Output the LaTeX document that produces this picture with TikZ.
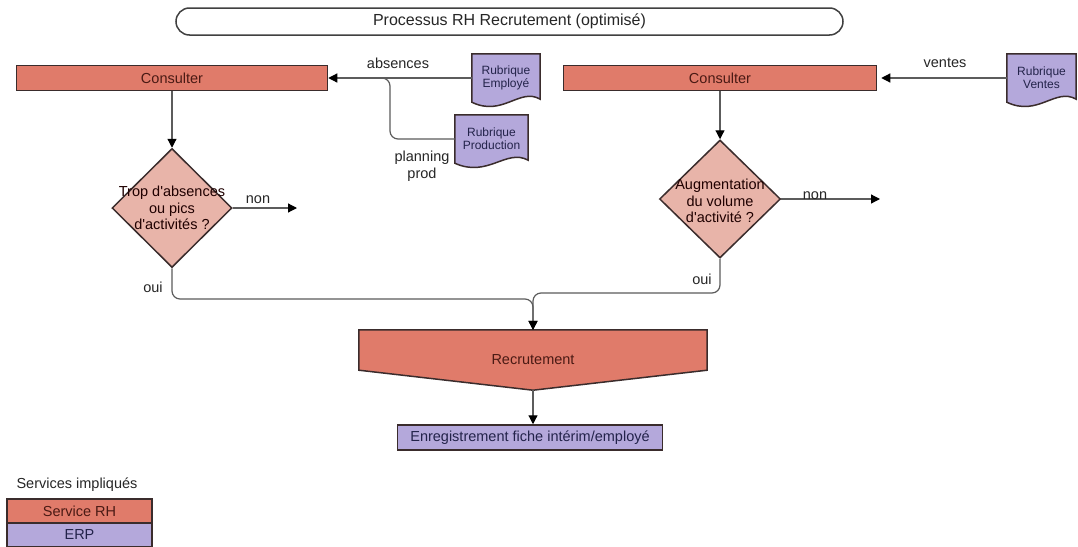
\documentclass[tikz,border=0pt]{standalone}
\usepackage{fontspec}
\setmainfont{Liberation Sans}
\usetikzlibrary{shapes.geometric,arrows.meta,calc,backgrounds}

\definecolor{rhfill}{HTML}{E07B6A}
\definecolor{decfill}{HTML}{E8B4A9}
\definecolor{erpfill}{HTML}{B4A8DB}
\definecolor{edge}{HTML}{3A2C2C}
\definecolor{rhtext}{HTML}{4A1A14}
\definecolor{erptext}{HTML}{23234A}
\definecolor{wire}{HTML}{5C5C5C}

\tikzset{
  base/.style={font=\fontsize{14.5}{16.5}\selectfont, inner sep=0pt},
  rhbox/.style={base, draw=edge, line width=1.5pt, fill=rhfill, text=rhtext, minimum height=25pt},
  erpbox/.style={base, draw=edge, line width=1.5pt, fill=erpfill, text=erptext, minimum height=25pt},
  decision/.style={diamond, draw=edge, line width=1.5pt, fill=decfill, inner sep=0pt},
  dectext/.style={base, align=center, text=black!80!red!60!black},
  doctext/.style={base, font=\fontsize{12}{13}\selectfont, text=erptext, align=center},
  docshape/.style={fill=erpfill, draw=edge, line width=1.5pt},
  lbl/.style={base, text=black!85},
  wireline/.style={draw=wire, line width=1.2pt},
  arrow/.style={wireline, -{Triangle[length=9pt,width=9pt,color=black]}},
}

% document outline with a wavy bottom edge
\newcommand\docoutline[1]{%
  \path[docshape] (#1.north west) -- (#1.north east) -- ($(#1.south east)+(0,-3)$)
    .. controls ($(#1.south west)!0.7!(#1.south east)+(0,-15)$)
            and ($(#1.south west)!0.45!(#1.south east)+(0,15)$) .. (#1.south west) -- cycle;}
\newcommand\apos{\textquotesingle}

\begin{document}
\begin{tikzpicture}[x=1pt,y=-1pt]
\useasboundingbox (0,0) rectangle (1078,546);

% title
\node[base, draw=black!75, line width=1.5pt, rounded corners=13.5pt, minimum width=667pt,
      minimum height=27pt, font=\fontsize{16}{18}\selectfont, text=black!85] (title)
      at (509.5,21.5) {Processus RH Recrutement (optimisé)};

% left branch: absences / production
\node[rhbox, minimum width=311pt] (cL) at (172,78) {Consulter};
\node[doctext, minimum width=68pt, minimum height=48pt] (emp) at (506,78) {Rubrique\\Employé};
\node[doctext, minimum width=73pt, minimum height=48pt] (prod) at (491.5,139) {Rubrique\\Production};
\coordinate (split) at (390,78);
\coordinate (splitend) at (370,78);
\draw[arrow] (emp.west) -- (cL.east);
\draw[wireline, rounded corners=8pt] (prod.west) -| (split) -- (splitend);
\node[lbl] (labs) at (398,63) {absences};
\node[lbl, align=center] (lplan) at (422,166) {planning\\prod};

\node[decision, minimum width=120pt, minimum height=119pt] (d1) at (172,208) {};
\node[dectext] (d1t) at (d1.center) {Trop d\apos absences\\ou pics\\d\apos activités ?};
\draw[arrow] (cL.south) -- (d1.north);
\coordinate (n1) at (297,208);
\draw[arrow] (d1.east) -- (n1);
\node[lbl] (lnon1) at (258,200) {non};
\node[lbl] (loui1) at (153,287) {oui};

% right branch: sales
\node[rhbox, minimum width=313pt] (cR) at (720,78) {Consulter};
\node[doctext, minimum width=69pt, minimum height=48pt] (ven) at (1041.5,78) {Rubrique\\Ventes};
\draw[arrow, shorten >=4pt] (ven.west) -- (cR.east);
\node[lbl] (lven) at (945,63) {ventes};

\node[decision, minimum width=121pt, minimum height=118pt] (d2) at (720,199) {};
\node[dectext] (d2t) at (720,201) {Augmentation\\du volume\\d\apos activité ?};
\draw[arrow] (cR.south) -- (d2.north);
\coordinate (n2) at (880,199);
\draw[arrow] (d2.east) -- (n2);
\node[lbl, anchor=south] (lnon2) at (815,200) {non};
\node[lbl] (loui2) at (702,279) {oui};

% recruitment
\node[base, text=rhtext, minimum width=348pt, minimum height=60pt] (rec) at (533,360) {Recrutement};
\coordinate (jl) at (533,299);
\coordinate (jr) at (533,293);
\draw[arrow, rounded corners=8pt] (d1.south) |- (jl) -- (rec.north);
\draw[arrow, rounded corners=8pt] (d2.south) |- (jr) -- (rec.north);

\node[erpbox, minimum width=265pt] (enr) at (530,437.5) {Enregistrement fiche intérim/employé};
\draw[arrow] (rec.south) -- (rec.south |- enr.north);

% legend
\node[lbl] (legt) at (77,485) {Services impliqués};
\node[rhbox, minimum width=145pt, minimum height=24pt] (lrh) at (79.5,511) {Service RH};
\node[erpbox, minimum width=145pt, minimum height=24pt] (lerp) at (79.5,535) {ERP};

% shapes behind their texts
\begin{scope}[on background layer]
  \fill[white] (0,0) rectangle (1078,546);
  \docoutline{emp}
  \docoutline{prod}
  \docoutline{ven}
  \filldraw[fill=rhfill, draw=edge, line width=1.5pt, line join=miter]
    (rec.north west) -- (rec.north east) -- ($(rec.south east)+(0,-20)$)
    -- (rec.south) -- ($(rec.south west)+(0,-20)$) -- cycle;
\end{scope}
\end{tikzpicture}
\end{document}
